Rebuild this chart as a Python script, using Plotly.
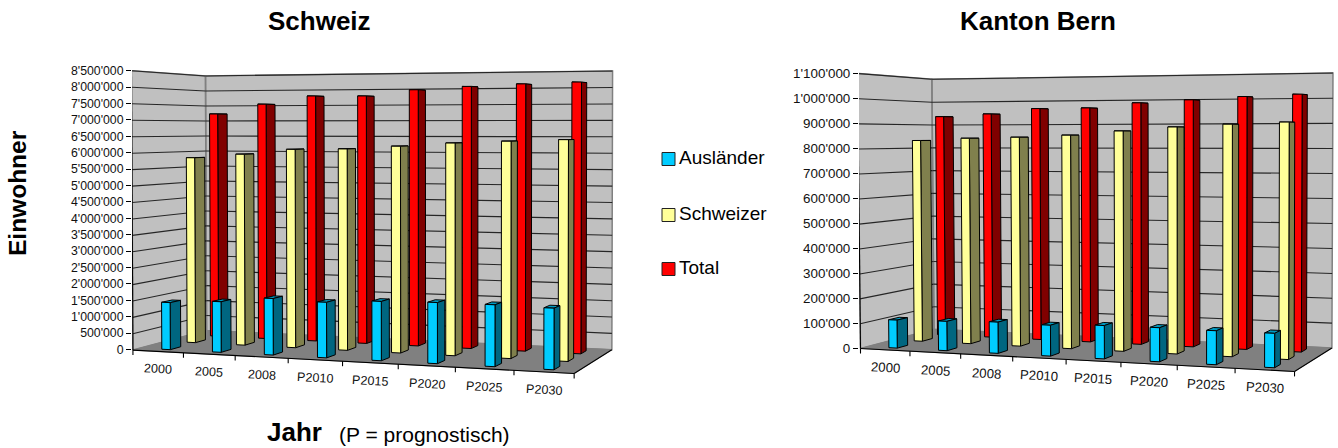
import numpy as np
import plotly.graph_objects as go

FONT = "Liberation Sans"
WIDTH, HEIGHT = 1338, 448

categories = ["2000", "2005", "2008", "P2010", "P2015", "P2020", "P2025", "P2030"]
series_names = ["Ausländer", "Schweizer", "Total"]

# Population figures, Switzerland
ch_auslaender = [1440000, 1530000, 1690000, 1640000, 1730000, 1760000, 1760000, 1730000]
ch_schweizer = [5830000, 5950000, 6110000, 6130000, 6220000, 6320000, 6380000, 6430000]
ch_total = [7220000, 7530000, 7780000, 7770000, 7950000, 8040000, 8100000, 8140000]

# Population figures, canton of Bern
be_auslaender = [113000, 117000, 123000, 120000, 128000, 129000, 127000, 127000]
be_schweizer = [833000, 842000, 846000, 854000, 870000, 885000, 895000, 902000]
be_total = [934000, 944000, 965000, 966000, 985000, 995000, 1006000, 1013000]

ch_ticks = list(range(0, 8500001, 500000))
be_ticks = list(range(0, 1100001, 100000))

# Face colours per series: front, side, top
FACE_COLOURS = [
    ("#00CCFF", "#006680", "#0099BF"),
    ("#FFFF99", "#80804D", "#BFBF73"),
    ("#FF0000", "#800000", "#BF0000"),
]
WALL = "#C0C0C0"
FLOOR = "#808080"

# Depth slots of the three series rows and the footprint of a column
ROW_DEPTH = [(0.093, 0.23), (0.43, 0.57), (0.76, 0.90)]
COL_START, COL_END = 0.43, 0.60


def fit_camera(points):
    """Solve the 3x4 perspective matrix for (cat, depth, height) -> screen."""
    rows = []
    for X, Y, Z, u, v in points:
        u, v = u / 1000.0, v / 1000.0
        rows.append([X, Y, Z, 1, 0, 0, 0, 0, -u * X, -u * Y, -u * Z, -u])
        rows.append([0, 0, 0, 0, X, Y, Z, 1, -v * X, -v * Y, -v * Z, -v])
    _, _, vt = np.linalg.svd(np.array(rows, dtype=float))
    return vt[-1].reshape(3, 4)


def add_chart(fig, idx, camera_points, zero_px, top_px, left_px, right_px,
              series, ticks, tick_font, cat_font, cat_shift):
    vmax = ticks[-1]
    cam = fit_camera(camera_points)
    xa, ya = ("x", "y") if idx == 1 else (f"x{idx}", f"y{idx}")
    dom_top, dom_bottom = 60, 400

    def value_of(py):
        return (zero_px - py) / (zero_px - top_px) * vmax

    def project(cat, depth, val):
        h = cam @ np.array([cat, depth, val / vmax, 1.0])
        return 1000.0 * h[0] / h[2], value_of(1000.0 * h[1] / h[2])

    def paths(polys):
        xs, ys = [], []
        for poly in polys:
            closed = list(poly) + [poly[0]]
            xs += [p[0] for p in closed] + [None]
            ys += [p[1] for p in closed] + [None]
        return xs, ys

    def poly_trace(polys, fill, line, width):
        xs, ys = paths(polys)
        fig.add_trace(go.Scatter(
            x=xs, y=ys, xaxis=xa, yaxis=ya, mode="lines", fill="toself",
            fillcolor=fill, line=dict(color=line, width=width),
            showlegend=False, hoverinfo="skip", cliponaxis=False))

    def line_trace(segments, colour, width):
        xs, ys = [], []
        for a, b in segments:
            xs += [a[0], b[0], None]
            ys += [a[1], b[1], None]
        fig.add_trace(go.Scatter(
            x=xs, y=ys, xaxis=xa, yaxis=ya, mode="lines",
            line=dict(color=colour, width=width),
            showlegend=False, hoverinfo="skip", cliponaxis=False))

    n = len(categories)
    # Walls and floor
    poly_trace([[project(0, 0, 0), project(0, 1, 0), project(0, 1, vmax), project(0, 0, vmax)],
                [project(0, 1, 0), project(n, 1, 0), project(n, 1, vmax), project(0, 1, vmax)]],
               WALL, "#808080", 1.5)
    poly_trace([[project(0, 0, 0), project(0, 1, 0), project(n, 1, 0), project(n, 0, 0)]],
               FLOOR, FLOOR, 1)

    # Gridlines along both walls
    grid = []
    for t in ticks[1:]:
        grid.append((project(0, 0, t), project(0, 1, t)))
        grid.append((project(0, 1, t), project(n, 1, t)))
    line_trace(grid, "#262626", 1.1)

    # Floor edges, value axis line and category tick marks
    frame = [(project(0, 0, 0), project(n, 0, 0)),
             (project(n, 0, 0), project(n, 1, 0)),
             (project(0, 0, 0), project(0, 0, vmax))]
    unit = vmax / (zero_px - top_px)
    for c in range(n + 1):
        p = project(c, 0, 0)
        frame.append((p, (p[0], p[1] - 5 * unit)))
    line_trace(frame, "#000000", 1.1)

    # Columns, back row first so nearer rows paint over it
    for row in (2, 1, 0):
        d0, d1 = ROW_DEPTH[row]
        front, side, top = [], [], []
        for c, val in enumerate(series[row]):
            x0, x1 = c + COL_START, c + COL_END
            top.append([project(x0, d0, val), project(x1, d0, val),
                        project(x1, d1, val), project(x0, d1, val)])
            side.append([project(x1, d0, 0), project(x1, d1, 0),
                         project(x1, d1, val), project(x1, d0, val)])
            front.append([project(x0, d0, 0), project(x1, d0, 0),
                          project(x1, d0, val), project(x0, d0, val)])
        cf, cs, ct = FACE_COLOURS[row]
        poly_trace(top, ct, "#000000", 1)
        poly_trace(side, cs, "#000000", 1)
        poly_trace(front, cf, "#000000", 1)

    # Category labels under the slanted front edge
    for c, label in enumerate(categories):
        px, val = project(c + 0.5, 0, 0)
        fig.add_annotation(x=px, y=val, xref=xa, yref=ya, text=label, showarrow=False,
                           textangle=3.2, yshift=-cat_shift,
                           font=dict(family=FONT, size=cat_font, color="#111111"))

    fig.update_layout({
        ("xaxis" if idx == 1 else f"xaxis{idx}"): dict(
            domain=[left_px / WIDTH, right_px / WIDTH], range=[left_px, right_px],
            visible=False, fixedrange=True, anchor=ya),
        ("yaxis" if idx == 1 else f"yaxis{idx}"): dict(
            domain=[1 - dom_bottom / HEIGHT, 1 - dom_top / HEIGHT],
            range=[value_of(dom_bottom), value_of(dom_top)], anchor=xa,
            tickmode="array", tickvals=ticks, tickformat=",d",
            ticks="outside", ticklen=5, tickwidth=1, tickcolor="#000000",
            showgrid=False, zeroline=False, showline=False, fixedrange=True,
            tickfont=dict(family=FONT, size=tick_font, color="#111111")),
    })


fig = go.Figure()

add_chart(fig, 1,
          [(0, 0, 0, 133, 349.5), (0, 1, 0, 206, 331), (8, 1, 0, 612, 349), (8, 0, 0, 574, 374),
           (0, 0, 1, 131, 70.7), (0, 1, 1, 206, 76), (8, 1, 1, 612.5, 71),
           (1, 0, 0, 184, 352.5), (4, 0, 0, 342.5, 361.5), (7, 0, 0, 514, 370.5)],
          349.4, 70.7, 132, 625,
          [ch_auslaender, ch_schweizer, ch_total], ch_ticks, 12.3, 12.6, 18)

add_chart(fig, 2,
          [(0, 0, 0, 861, 348.3), (0, 1, 0, 934, 330), (8, 1, 0, 1332, 347), (8, 0, 0, 1295, 371.7),
           (0, 0, 1, 857.7, 73.3), (0, 1, 1, 931.7, 79), (8, 1, 1, 1333, 73.5),
           (1, 0, 0, 910, 351), (4, 0, 0, 1065, 359.5), (7, 0, 0, 1235, 368.5)],
          348.3, 73.3, 859, 1338,
          [be_auslaender, be_schweizer, be_total], be_ticks, 13.4, 13.2, 18)

# Shared key between the two charts
key_y = [159, 215, 269]
fig.add_trace(go.Scatter(
    x=[668.5] * 3, y=key_y, xaxis="x3", yaxis="y3", mode="markers",
    marker=dict(symbol="square", size=13, color=[c[0] for c in FACE_COLOURS],
                line=dict(color="#222222", width=1)),
    showlegend=False, hoverinfo="skip", cliponaxis=False))
fig.add_trace(go.Scatter(
    x=[679] * 3, y=key_y, xaxis="x3", yaxis="y3", mode="text",
    text=series_names, textposition="middle right",
    textfont=dict(family=FONT, size=19, color="#000000"),
    showlegend=False, hoverinfo="skip", cliponaxis=False))

fig.update_layout(
    width=WIDTH, height=HEIGHT,
    margin=dict(l=0, r=0, t=0, b=0),
    paper_bgcolor="white", plot_bgcolor="rgba(0,0,0,0)",
    separators=".'",
    showlegend=False,
    xaxis3=dict(domain=[650 / WIDTH, 800 / WIDTH], range=[650, 800], visible=False,
                fixedrange=True, anchor="y3"),
    yaxis3=dict(domain=[1 - 290 / HEIGHT, 1 - 140 / HEIGHT], range=[290, 140], visible=False,
                fixedrange=True, anchor="x3"),
)

# Chart titles and shared axis captions
captions = [
    ("Schweiz", 319.5, 21, 26, True, 0),
    ("Kanton Bern", 1038, 21, 26, True, 0),
    ("Einwohner", 17, 193, 24.5, True, -90),
    ("Jahr", 294.5, 432, 26, True, 0),
    ("(P = prognostisch)", 424.5, 434, 21, False, 0),
]
for text, cx, cy, size, bold, angle in captions:
    fig.add_annotation(
        x=cx / WIDTH, y=1 - cy / HEIGHT, xref="paper", yref="paper", showarrow=False,
        text=f"<b>{text}</b>" if bold else text, textangle=angle,
        xanchor="center", yanchor="middle",
        font=dict(family=FONT, size=size, color="#000000"))

fig.write_html("out.html")
